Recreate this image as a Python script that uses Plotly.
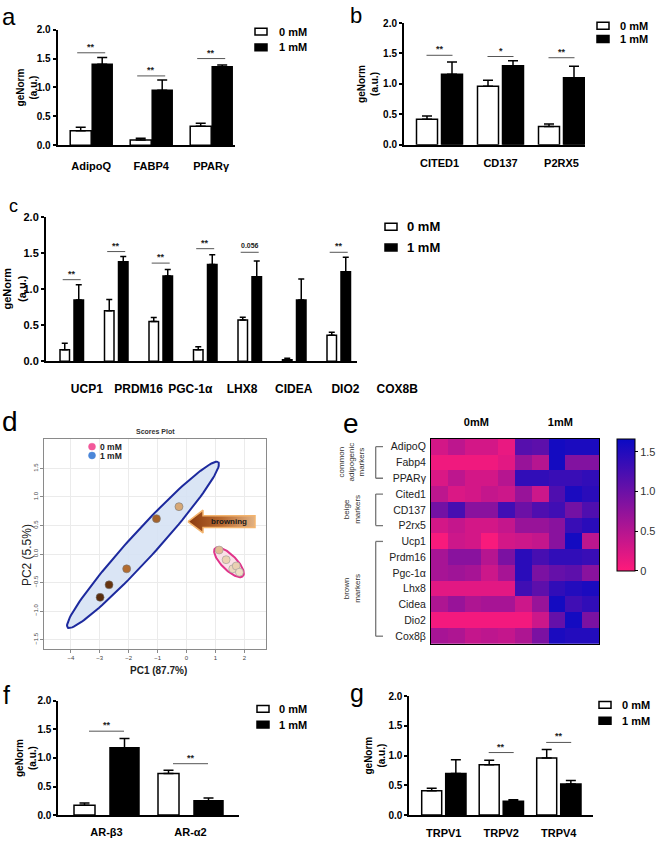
import numpy as np
import plotly.graph_objects as go

W, H = 658, 843
FONT = "Arial, Liberation Sans, sans-serif"
NARROW = "Arial Narrow, Liberation Sans Narrow, Arial, Liberation Sans, sans-serif"


def fx(px):
    return px / W


def fy(py):
    return 1 - py / H


doses = ["0 mM", "1 mM"]

# ---------------- panel a ----------------
a_genes = ["AdipoQ", "FABP4", "PPARγ"]
a_ctrl = [0.25, 0.09, 0.33]
a_ctrl_err = [0.06, 0.03, 0.05]
a_treat = [1.40, 0.95, 1.36]
a_treat_err = [0.12, 0.18, 0.03]
a_sig = ["**", "**", "**"]
a_sig_y = [1.60, 1.20, 1.50]

# ---------------- panel b ----------------
b_genes = ["CITED1", "CD137", "P2RX5"]
b_ctrl = [0.42, 0.96, 0.30]
b_ctrl_err = [0.05, 0.10, 0.04]
b_treat = [1.16, 1.30, 1.10]
b_treat_err = [0.20, 0.08, 0.19]
b_sig = ["**", "*", "**"]
b_sig_y = [1.47, 1.45, 1.43]

# ---------------- panel c ----------------
c_genes = ["UCP1", "PRDM16", "PGC-1α", "LHX8", "CIDEA", "DIO2", "COX8B"]
c_ctrl = [0.16, 0.70, 0.55, 0.16, 0.57, 0.02, 0.36]
c_ctrl_err = [0.09, 0.155, 0.055, 0.04, 0.04, 0.02, 0.04]
c_treat = [0.85, 1.38, 1.18, 1.34, 1.17, 0.85, 1.24]
c_treat_err = [0.21, 0.07, 0.09, 0.135, 0.22, 0.29, 0.20]
c_sig = ["**", "**", "**", "**", "0.056", "", "**"]
c_sig_y = [1.13, 1.52, 1.36, 1.56, 1.51, None, 1.51]

# ---------------- panel d (PCA scores) ----------------
d_pc1_treat = [-2.99, -2.68, -2.07, -1.04, -0.26]
d_pc2_treat = [-0.76, -0.54, -0.26, 0.62, 0.83]
d_pc1_ctrl = [1.13, 1.37, 1.60, 1.72, 1.83]
d_pc2_ctrl = [0.07, -0.10, -0.26, -0.21, -0.32]
d_ell_treat_ends = [(-4.11, -1.29), (1.10, 1.61)]
d_ell_ctrl_ends = [(0.99, 0.10), (1.95, -0.39)]
d_xlabel = "PC1 (87.7%)"
d_ylabel = "PC2 (5.5%)"

# ---------------- panel e (heatmap) ----------------
e_genes = ["AdipoQ", "Fabp4", "PPARγ", "Cited1", "CD137", "P2rx5", "Ucp1",
           "Prdm16", "Pgc-1α", "Lhx8", "Cidea", "Dio2", "Cox8β"]
e_groups = ["0mM", "1mM"]
e_z = [
    [0.30, 0.45, 0.30, 0.30, 0.15, 1.15, 1.10, 1.60, 1.55, 1.55],
    [0.10, 0.10, 0.10, 0.10, 0.20, 0.70, 0.50, 1.60, 0.85, 0.85],
    [0.25, 0.45, 0.30, 0.30, 0.50, 1.40, 1.40, 1.35, 1.35, 1.40],
    [0.45, 0.25, 0.30, 0.40, 0.35, 0.70, 0.35, 1.20, 1.55, 1.45],
    [0.95, 1.25, 0.80, 0.80, 1.30, 1.00, 1.20, 1.30, 0.95, 1.20],
    [0.30, 0.40, 0.30, 0.30, 0.40, 0.70, 0.70, 0.80, 1.35, 1.45],
    [0.05, 0.35, 0.30, 0.05, 0.30, 0.35, 0.40, 0.80, 1.60, 0.45],
    [0.60, 0.80, 0.80, 0.50, 0.90, 1.45, 1.25, 1.40, 1.40, 1.35],
    [0.60, 0.65, 0.60, 0.35, 0.60, 1.45, 0.90, 1.05, 1.10, 0.80],
    [0.20, 0.20, 0.20, 0.20, 0.20, 1.30, 1.10, 1.40, 1.50, 1.55],
    [0.55, 0.70, 0.55, 0.60, 0.60, 0.35, 0.70, 1.60, 1.30, 1.40],
    [0.08, 0.08, 0.08, 0.08, 0.08, 0.08, 0.35, 1.05, 1.60, 0.90],
    [0.60, 0.55, 0.40, 0.45, 0.40, 0.55, 0.90, 1.55, 1.50, 1.50],
]
e_brackets = [("common<br>adipogenic<br>markers", 0, 2),
              ("beige<br>markers", 3, 5),
              ("brown<br>markers", 6, 12)]
e_ticks = [0, 0.5, 1.0, 1.5]

# ---------------- panel f ----------------
f_genes = ["AR-β3", "AR-α2"]
f_ctrl = [0.17, 0.73]
f_ctrl_err = [0.04, 0.055]
f_treat = [1.18, 0.25]
f_treat_err = [0.16, 0.05]
f_sig = ["**", "**"]
f_sig_y = [1.47, 0.90]

# ---------------- panel g ----------------
g_genes = ["TRPV1", "TRPV2", "TRPV4"]
g_ctrl = [0.41, 0.845, 0.96]
g_ctrl_err = [0.04, 0.075, 0.14]
g_treat = [0.70, 0.23, 0.52]
g_treat_err = [0.23, 0.025, 0.06]
g_sig = ["", "**", "**"]
g_sig_y = [None, 1.05, 1.22]

fig = go.Figure()
shapes = []
annotations = []
axes = {}


def axn(n, letter):
    return f"{letter}axis" if n == 1 else f"{letter}axis{n}"


def ref(n, letter):
    return letter if n == 1 else f"{letter}{n}"


def note(px, py, text, size, color="#222", bold=False, xanchor="center",
         yanchor="middle", angle=0, family=FONT, **kw):
    d = dict(xref="paper", yref="paper", x=fx(px), y=fy(py), text=text,
             showarrow=False, xanchor=xanchor, yanchor=yanchor, textangle=angle,
             font=dict(family=family, size=size, color=color,
                       weight="bold" if bold else "normal"))
    d.update(kw)
    annotations.append(d)


def bar_panel(n, genes, ctrl, ctrl_err, treat, treat_err, sig, sig_y, g):
    xr, yr = ref(n, "x"), ref(n, "y")
    step = g["step"]
    left = -(g["c0"] - g["x0"]) / step
    right = left + (g["x1"] - g["x0"]) / step
    specs = [(doses[0], ctrl, ctrl_err, "white", g["wpx"]),
             (doses[1], treat, treat_err, "black", g["bpx"])]
    for name, vals, errs, col, (l, r) in specs:
        fig.add_trace(go.Bar(
            x=genes, y=vals, name=name, xaxis=xr, yaxis=yr,
            offset=l / step, width=(r - l) / step,
            marker=dict(color=col, line=dict(color="black", width=1.5)),
            error_y=dict(type="data", symmetric=False, array=errs,
                         arrayminus=[0] * len(errs), color="black",
                         thickness=1.5, width=g["cap"]),
            showlegend=False, hoverinfo="skip"))
    fam = g["font"]
    axes[axn(n, "x")] = dict(
        domain=[fx(g["x0"]), fx(g["x1"])], range=[left, right], anchor=yr,
        type="category", showline=True, linecolor="black", linewidth=2,
        ticks="outside" if g["xlabels"] else "", ticklen=g["xtl"],
        tickcolor="rgba(0,0,0,0)", showticklabels=g["xlabels"],
        tickfont=dict(family=fam, size=g["xfs"], color="black", weight="bold"),
        showgrid=False, zeroline=False)
    axes[axn(n, "y")] = dict(
        domain=[fy(g["y0"]), fy(g["y2"])], range=[0, 2], anchor=xr,
        tickvals=[0, 0.5, 1, 1.5, 2], tickformat=".1f", ticks="outside",
        ticklen=3, tickwidth=2, tickcolor="black", showline=True,
        linecolor="black", linewidth=2,
        tickfont=dict(family=fam, size=g["yfs"], color="black", weight="bold"),
        showgrid=False, zeroline=False)
    h = g["sig_half"] / step
    for i, (s, sy) in enumerate(zip(sig, sig_y)):
        if not s:
            continue
        shapes.append(dict(type="line", xref=xr, yref=yr, x0=i - h, x1=i + h,
                           y0=sy, y1=sy, line=dict(color="#555", width=1)))
        annotations.append(dict(
            xref=xr, yref=yr, x=i, y=sy, text=s, showarrow=False,
            xanchor="center", yanchor="bottom",
            yshift=-1 if s.startswith("*") else 1,
            font=dict(family=FONT, size=9 if s.startswith("*") else 7,
                      color="#222", weight="bold")))
    bx, by, dy, tx = g["leg"]
    for k, (name, col) in enumerate(zip(doses, ["white", "black"])):
        yy = by + k * dy
        shapes.append(dict(type="rect", xref="paper", yref="paper",
                           x0=fx(bx), x1=fx(bx + 12), y0=fy(yy + 3.5),
                           y1=fy(yy - 3.5), fillcolor=col,
                           line=dict(color="black", width=1.5)))
        note(tx, yy, name, g["lfs"], color="black", bold=True, xanchor="left",
             family=fam)
    note(g["tx"], (g["y0"] + g["y2"]) / 2, "geNorm<br>(a.u.)", g["tfs"],
         color="black", bold=True, angle=-90, family=fam)


common = dict(font=FONT, xlabels=True, xfs=11, yfs=10, lfs=11, tfs=10, cap=5)
bar_panel(1, a_genes, a_ctrl, a_ctrl_err, a_treat, a_treat_err, a_sig, a_sig_y,
          dict(common, x0=57.7, x1=235, c0=91.2, step=60, y0=141.3, y2=24,
               wpx=(-21, 0), bpx=(1, 21), sig_half=14, xtl=10,
               leg=(255, 26, 16, 277), tx=27))
bar_panel(2, b_genes, b_ctrl, b_ctrl_err, b_treat, b_treat_err, b_sig, b_sig_y,
          dict(common, x0=404, x1=585, c0=439.5, step=61, y0=140.7, y2=17.3,
               wpx=(-23, -2), bpx=(2, 23), sig_half=13, xtl=7,
               leg=(597, 20, 13.5, 618), tx=368))
bar_panel(3, c_genes, c_ctrl, c_ctrl_err, c_treat, c_treat_err, c_sig, c_sig_y,
          dict(common, font=NARROW, xlabels=False, x0=46, x1=357, c0=71.7,
               step=44.5, y0=360.3, y2=214, wpx=(-11.7, -2.2), bpx=(2.3, 11.8),
               sig_half=9, xtl=0, cap=3, yfs=11, lfs=13, tfs=11,
               leg=(385, 224, 21, 405), tx=14.5))
bar_panel(6, f_genes, f_ctrl, f_ctrl_err, f_treat, f_treat_err, f_sig, f_sig_y,
          dict(common, x0=58.3, x1=239, c0=106.5, step=84, y0=820.7, y2=705,
               wpx=(-32.5, -11.5), bpx=(3.5, 32.5), sig_half=17.5, xtl=6,
               leg=(257, 713, 16, 277), tx=26))
bar_panel(7, g_genes, g_ctrl, g_ctrl_err, g_treat, g_treat_err, g_sig, g_sig_y,
          dict(common, x0=409.3, x1=592.7, c0=443.7, step=57.5, y0=820.7, y2=700,
               wpx=(-22, -2), bpx=(2, 22.3), sig_half=12.5, xtl=7,
               leg=(599, 709, 16, 620), tx=375))

# panel c: gene labels sit on their own (wider) label axis, as in the original
fig.add_trace(go.Scatter(x=c_genes, y=[0] * len(c_genes), xaxis="x8", yaxis="y8",
                         mode="markers", marker=dict(opacity=0),
                         showlegend=False, hoverinfo="skip"))
axes["xaxis8"] = dict(domain=[fx(61), fx(423)], anchor="y8", type="category",
                      range=[-0.5, len(c_genes) - 0.5], showline=False,
                      showgrid=False, zeroline=False, ticks="",
                      tickfont=dict(family=NARROW, size=12, color="black",
                                    weight="bold"))
axes["yaxis8"] = dict(domain=[fy(379), fy(378)], visible=False, range=[0, 1])

# ---------------- panel d ----------------
dx0, dx1, dy0, dy1 = 44, 266, 652, 439
dxr = [-4.93, 2.75]
dyr = [-1.66, 2.02]
sx = (dx1 - dx0) / (dxr[1] - dxr[0])
sy = (dy0 - dy1) / (dyr[1] - dyr[0])


def ellipse(ends, half_px):
    (xa, ya), (xb, yb) = ends
    cx, cy = (xa + xb) / 2, (ya + yb) / 2
    ux, uy = (xb - xa) / 2 * sx, (yb - ya) / 2 * sy
    ln = np.hypot(ux, uy)
    vx, vy = -uy / ln * half_px, ux / ln * half_px
    t = np.linspace(0, 2 * np.pi, 120)
    px = ux * np.cos(t) + vx * np.sin(t)
    py = uy * np.cos(t) + vy * np.sin(t)
    return cx + px / sx, cy + py / sy


ex, ey = ellipse(d_ell_treat_ends, 13.5)
fig.add_trace(go.Scatter(x=ex, y=ey, xaxis="x4", yaxis="y4", mode="lines",
                         fill="toself", fillcolor="rgba(214,226,244,0.9)",
                         line=dict(color="#1d2a9e", width=2),
                         showlegend=False, hoverinfo="skip"))
ex, ey = ellipse(d_ell_ctrl_ends, 7.5)
fig.add_trace(go.Scatter(x=ex, y=ey, xaxis="x4", yaxis="y4", mode="lines",
                         fill="toself", fillcolor="rgba(250,222,228,0.9)",
                         line=dict(color="#e0338a", width=2),
                         showlegend=False, hoverinfo="skip"))

# browning arrow (pixel outline converted to the scores-plot axes)
arrow_px = [(188, 523), (203, 511.5), (203, 517), (255, 517), (255, 529),
            (203, 529), (203, 534.5), (188, 523)]
arr_x = [dxr[0] + (p[0] - dx0) / sx for p in arrow_px]
arr_y = [dyr[0] + (dy0 - p[1]) / sy for p in arrow_px]
fig.add_trace(go.Scatter(x=arr_x, y=arr_y, xaxis="x4", yaxis="y4", mode="lines",
                         fill="toself",
                         fillgradient=dict(type="horizontal",
                                           colorscale=[[0, "#8a3a0e"],
                                                       [0.5, "#b8692f"],
                                                       [1, "#e2b283"]]),
                         line=dict(color="#f3b46e", width=1.5),
                         showlegend=False, hoverinfo="skip"))

treat_cols = ["#5a2d0c", "#66340f", "#b26c30", "#a5622a", "#d7a877"]
ctrl_cols = ["#e2bc94", "#ebd2b3", "#edd8bd", "#e9d0b2", "#efdcc4"]
fig.add_trace(go.Scatter(x=d_pc1_treat, y=d_pc2_treat, xaxis="x4", yaxis="y4",
                         mode="markers",
                         marker=dict(size=8, color=treat_cols,
                                     line=dict(color="#777", width=0.6)),
                         showlegend=False, hoverinfo="skip"))
fig.add_trace(go.Scatter(x=d_pc1_ctrl, y=d_pc2_ctrl, xaxis="x4", yaxis="y4",
                         mode="markers",
                         marker=dict(size=8, color=ctrl_cols,
                                     line=dict(color="#999", width=0.6)),
                         showlegend=False, hoverinfo="skip"))

dstyle = dict(showline=True, mirror=True, linecolor="#8a8a8a", linewidth=1,
              ticks="outside", ticklen=3, tickcolor="#8a8a8a", showgrid=True,
              gridcolor="#ebebeb", zeroline=False,
              tickfont=dict(family=FONT, size=6, color="#444"))
axes["xaxis4"] = dict(dstyle, domain=[fx(dx0), fx(dx1)], range=dxr, anchor="y4",
                      tickvals=list(range(-4, 3)))
axes["yaxis4"] = dict(dstyle, domain=[fy(dy0), fy(dy1)], range=dyr, anchor="x4",
                      tickvals=[-1.5, -1.0, -0.5, 0, 0.5, 1.0, 1.5],
                      tickformat=".1f", tickangle=-90)
note(155, 432, "Scores Plot", 7, color="#333", bold=True)
note(27, 557, d_ylabel, 12, color="#222", angle=-90)
note(158, 674, d_xlabel, 10, color="#222", bold=True)
note(229, 523, "browning", 8, color="#1a1a1a", bold=True)
for k, (name, col) in enumerate(zip(doses, ["#f2589a", "#4a86d8"])):
    yy = 447 + k * 9
    shapes.append(dict(type="circle", xref="paper", yref="paper",
                       x0=fx(88.5), x1=fx(95.5), y0=fy(yy + 3.5), y1=fy(yy - 3.5),
                       fillcolor=col, line=dict(color=col, width=0.5)))
    note(98, yy, name, 8.5, color="#222", bold=True, xanchor="left")

# ---------------- panel e ----------------
fig.add_trace(go.Heatmap(
    z=e_z, x=list(range(len(e_z[0]))), y=e_genes, xaxis="x5", yaxis="y5",
    zmin=0, zmax=1.667, colorscale=[[0, "#ff1a7a"], [1, "#0a0ac4"]],
    hoverinfo="skip",
    colorbar=dict(x=fx(617), xanchor="left", y=fy(439), yanchor="top",
                  len=131.7, lenmode="pixels", thickness=18,
                  thicknessmode="pixels", outlinewidth=1, outlinecolor="black",
                  tickvals=e_ticks, ticktext=["0", "0.5", "1.0", "1.5"],
                  ticks="outside", ticklen=3, tickcolor="black", xpad=0, ypad=0,
                  tickfont=dict(family=FONT, size=11, color="#333"))))
ncol = len(e_z[0])
half = ncol // len(e_groups)
axes["xaxis5"] = dict(domain=[fx(431), fx(599)], range=[-0.5, ncol - 0.5],
                      anchor="y5", side="top",
                      tickvals=[k * half + (half - 1) / 2 + 0.2
                                for k in range(len(e_groups))],
                      ticktext=e_groups, ticks="outside", ticklen=7,
                      tickcolor="rgba(0,0,0,0)", showline=True, mirror=True,
                      linecolor="black", linewidth=1, showgrid=False,
                      zeroline=False,
                      tickfont=dict(family=FONT, size=11, color="black",
                                    weight="bold"))
axes["yaxis5"] = dict(domain=[fy(647.3), fy(439)], anchor="x5", type="category",
                      range=[len(e_genes) - 0.5, -0.5], ticks="outside",
                      ticklen=2, tickcolor="rgba(0,0,0,0)", showline=True,
                      mirror=True, linecolor="black", linewidth=1,
                      showgrid=False, zeroline=False,
                      tickfont=dict(family=FONT, size=10.5, color="#222"))
for label, r0, r1 in e_brackets:
    for (x0, x1, y0, y1) in [(375.7, 375.7, r0, r1), (375.7, 383, r0, r0),
                             (375.7, 383, r1, r1)]:
        shapes.append(dict(type="line", xref="paper", yref="y5",
                           x0=fx(x0), x1=fx(x1), y0=y0, y1=y1,
                           line=dict(color="#777", width=1.3)))
    annotations.append(dict(xref="paper", yref="y5", x=fx(352), y=(r0 + r1) / 2,
                            text=label, textangle=-90, showarrow=False,
                            xanchor="center", yanchor="middle",
                            font=dict(family=FONT, size=8, color="#333")))

# ---------------- panel letters ----------------
for letter, px, py, size in [("a", 9, 11, 24), ("b", 356, 10, 22), ("c", 13.5, 203, 18),
                             ("d", 9.5, 421, 28), ("e", 351, 424, 28),
                             ("f", 6, 699, 25), ("g", 357, 697, 25)]:
    note(px, py, letter, size, color="black")

fig.update_layout(
    width=W, height=H, autosize=False,
    margin=dict(l=0, r=0, t=0, b=0),
    paper_bgcolor="white", plot_bgcolor="white",
    showlegend=False, shapes=shapes, annotations=annotations,
    font=dict(family=FONT),
    **axes)

fig.write_html("out.html",
               config={"displayModeBar": False, "staticPlot": True},
               post_script="document.body.style.margin='0px';"
                           "document.body.style.overflow='hidden';")
